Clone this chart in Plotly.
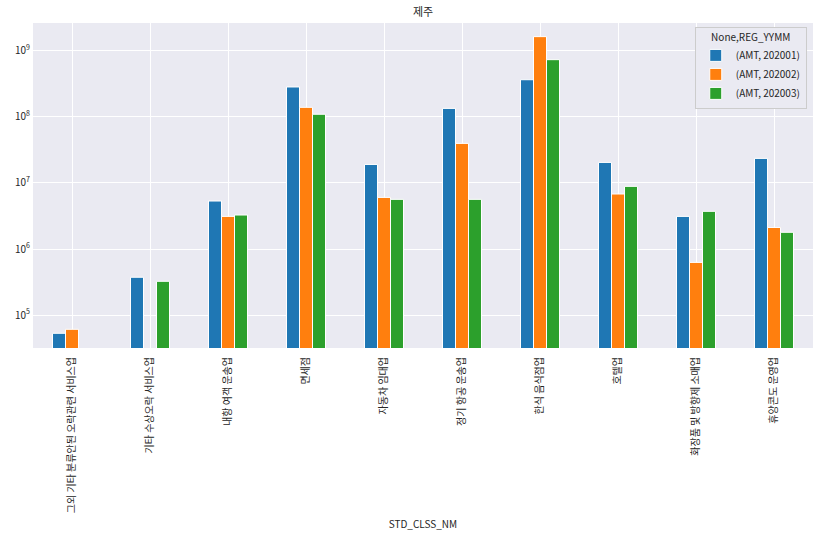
import plotly.graph_objects as go

categories = ["그외 기타 분류안된 오락관련 서비스업", "기타 수상오락 서비스업", "내항 여객 운송업",
              "면세점", "자동차 임대업", "정기 항공 운송업", "한식 음식점업", "호텔업",
              "화장품 및 방향제 소매업", "휴양콘도 운영업"]
amt_202001 = [52800, 373000, 5.33e6, 2.85e8, 1.91e7, 1.35e8, 3.67e8, 2.05e7, 3.12e6, 2.36e7]
amt_202002 = [60700, None, 3.12e6, 1.40e8, 6.05e6, 3.98e7, 1.65e9, 6.81e6, 6.27e5, 2.12e6]
amt_202003 = [None, 324000, 3.27e6, 1.10e8, 5.65e6, 5.65e6, 7.39e8, 8.89e6, 3.72e6, 1.79e6]
series_names = ["(AMT, 202001)", "(AMT, 202002)", "(AMT, 202003)"]
colors = ["#1f77b4", "#ff7f0e", "#2ca02c"]
tick_vals = [1e5, 1e6, 1e7, 1e8, 1e9]
tick_text = ["10<sup>5</sup>", "10<sup>6</sup>", "10<sup>7</sup>", "10<sup>8</sup>", "10<sup>9</sup>"]

FONT = "Noto Sans CJK KR, DejaVu Sans, sans-serif"
fig = go.Figure()
for name, vals, c in zip(series_names, [amt_202001, amt_202002, amt_202003], colors):
    fig.add_trace(go.Bar(x=categories, y=vals, name=name,
                         marker=dict(color=c, line=dict(color="white", width=1))))

fig.update_layout(
    width=820, height=536,
    margin=dict(l=33, r=7, t=23, b=188),
    paper_bgcolor="white", plot_bgcolor="#EAEAF2",
    barmode="group", bargap=0.5, bargroupgap=0,
    font=dict(family=FONT, size=10, color="#262626"),
    title=dict(text="제주", x=0.5, xref="paper", xanchor="center", y=0.985, yanchor="top",
               font=dict(size=11, color="#262626")),
    legend=dict(title=dict(text="None,REG_YYMM", side="top center", font=dict(size=10)),
                x=0.992, y=0.988, xanchor="right", yanchor="top",
                bgcolor="#EAEAF2", bordercolor="#CCCCCC", borderwidth=1,
                font=dict(size=10), tracegroupgap=0, itemwidth=30),
    showlegend=True,
)
fig.update_xaxes(title=dict(text="STD_CLSS_NM", font=dict(size=10), standoff=8),
                 tickangle=-90, showgrid=True, gridcolor="white", gridwidth=1,
                 showline=False, zeroline=False, ticks="", tickfont=dict(size=10),
                 ticklabelstandoff=6)
fig.update_yaxes(type="log", range=[4.5, 9.424], tickvals=tick_vals, ticktext=tick_text,
                 showgrid=True, gridcolor="white", gridwidth=1, showline=False, zeroline=False,
                 ticks="", tickfont=dict(size=10), ticklabelstandoff=2)

fig.write_html("out.html")
